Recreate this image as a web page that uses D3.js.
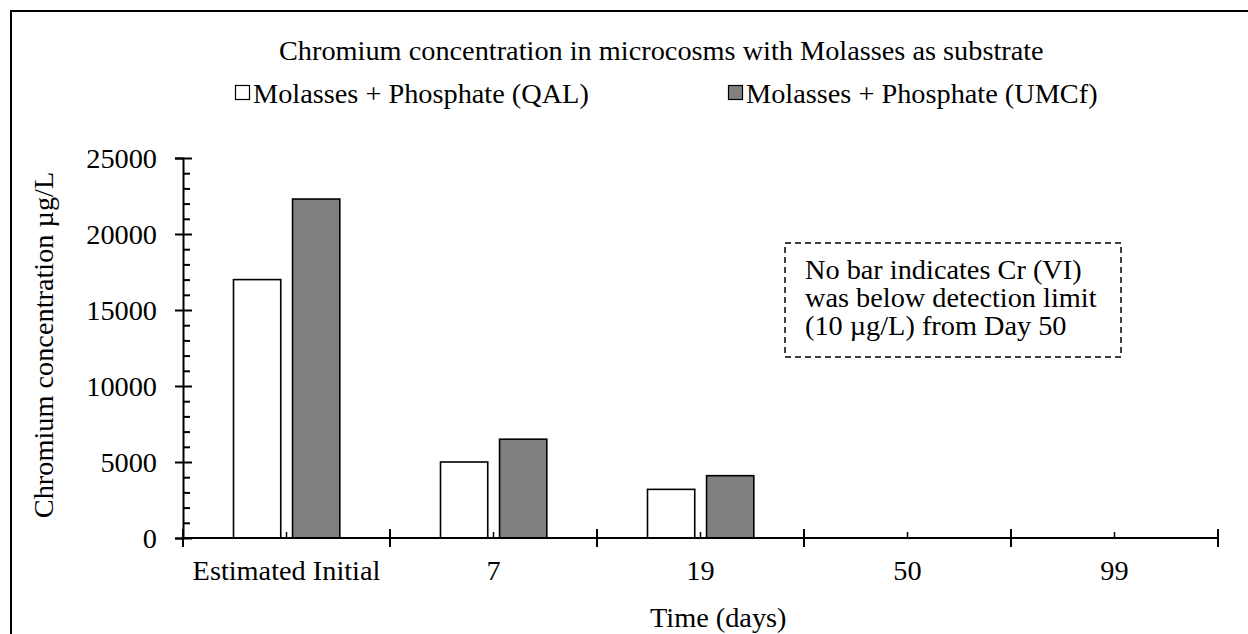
<!DOCTYPE html>
<html>
<head>
<meta charset="utf-8">
<script src="https://cdn.jsdelivr.net/npm/d3@7/dist/d3.min.js"></script>
<style>
  html, body { margin: 0; padding: 0; background: #fff; overflow: hidden; }
  svg { display: block; }
  text { font-family: "Liberation Serif", "Times New Roman", serif; fill: #000; }
</style>
</head>
<body>
<svg id="chart" width="1248" height="634"></svg>
<script>
// Chromium concentration per sampling time, two molasses microcosms
const categories = ["Estimated Initial", "7", "19", "50", "99"];
const seriesNames = ["Molasses + Phosphate (QAL)", "Molasses + Phosphate (UMCf)"];
// null = below detection limit, no bar drawn
const qalValues  = [17000, 5000, 3200, null, null];
const umcfValues = [22300, 6500, 4100, null, null];
const yTickValues = [0, 5000, 10000, 15000, 20000, 25000];
const yMinorStep = 1000;
const noteLines = ["No bar indicates Cr (VI)", "was below detection limit", "(10 \u00b5g/L) from Day 50"];

const seriesColors = ["#ffffff", "#808080"];
const FONT = 28.3;

const svg = d3.select("#chart");

// outer chart frame (runs past the right and bottom edges)
svg.append("rect")
  .attr("x", 11).attr("y", 11)
  .attr("width", 1400).attr("height", 700)
  .attr("fill", "none").attr("stroke", "#000").attr("stroke-width", 2);

const plot = { left: 183, right: 1218, top: 158, bottom: 538 };

const x = d3.scaleBand().domain(categories).range([plot.left, plot.right]).padding(0);
const xs = d3.scaleBand().domain(seriesNames).range([50.5, 156.8]).paddingInner(0.2);
const y = d3.scaleLinear().domain([0, 25000]).range([plot.bottom, plot.top]);

// title
svg.append("text")
  .attr("x", 279).attr("y", 60)
  .style("font-size", FONT + "px")
  .text("Chromium concentration in microcosms with Molasses as substrate");

// legend
const legendX = [235, 728];
seriesNames.forEach((name, i) => {
  const g = svg.append("g").attr("transform", `translate(${legendX[i]},0)`);
  g.append("rect")
    .attr("x", 0.5).attr("y", 85.5).attr("width", 14).attr("height", 14)
    .attr("fill", seriesColors[i]).attr("stroke", "#000").attr("stroke-width", 1.2);
  g.append("text")
    .attr("x", 18).attr("y", 103)
    .style("font-size", FONT + "px")
    .text(name);
});

// bars
const rows = categories.map((c, i) => ({ cat: c, vals: [qalValues[i], umcfValues[i]] }));
const barG = svg.append("g");
rows.forEach(r => {
  r.vals.forEach((v, si) => {
    if (v == null) return;
    barG.append("rect")
      .attr("x", x(r.cat) + xs(seriesNames[si]))
      .attr("y", y(v))
      .attr("width", xs.bandwidth())
      .attr("height", y(0) - y(v))
      .attr("fill", seriesColors[si])
      .attr("stroke", "#000")
      .attr("stroke-width", 1.6);
  });
});

// y axis: major ticks crossing the line, minor ticks inside
const yMajorLeft = d3.axisLeft(y).tickValues(yTickValues).tickSize(8).tickPadding(18)
  .tickFormat(d3.format("d"));
const yAxisG = svg.append("g").attr("transform", `translate(${plot.left},0)`).call(yMajorLeft);
yAxisG.select(".domain").attr("stroke-width", 2);
yAxisG.selectAll(".tick line").attr("stroke-width", 2);
yAxisG.selectAll(".tick text").style("font-size", FONT + "px").style("font-family", "Liberation Serif").attr("dy", "0.34em");

const minorVals = d3.range(0, 25000 + 1, yMinorStep);
const yMinor = d3.axisRight(y).tickValues(minorVals).tickSize(7).tickFormat("");
const yMinorG = svg.append("g").attr("transform", `translate(${plot.left},0)`).call(yMinor);
yMinorG.select(".domain").remove();
yMinorG.selectAll(".tick line")
  .attr("stroke-width", 2)
  .attr("x2", d => yTickValues.includes(d) ? 9 : 7);

// x axis: labels centered on categories, ticks on the category boundaries
const xAxis = d3.axisBottom(x).tickSize(0).tickPadding(30);
const xAxisG = svg.append("g").attr("transform", `translate(0,${plot.bottom})`).call(xAxis);
xAxisG.select(".domain").attr("stroke-width", 2).attr("d", `M${plot.left},0H${plot.right}`);
xAxisG.selectAll(".tick text").style("font-size", FONT + "px").style("font-family", "Liberation Serif")
  .attr("y", 42).attr("dy", 0);

const bounds = categories.map(c => x(c)).concat([x(categories[categories.length - 1]) + x.bandwidth()]);
xAxisG.selectAll(".bound").data(bounds).join("line")
  .attr("class", "bound")
  .attr("x1", d => d).attr("x2", d => d)
  .attr("y1", -9).attr("y2", 9)
  .attr("stroke", "#000").attr("stroke-width", 2);
xAxisG.selectAll(".mid").data(categories).join("line")
  .attr("class", "mid")
  .attr("x1", d => x(d) + x.bandwidth() / 2).attr("x2", d => x(d) + x.bandwidth() / 2)
  .attr("y1", -6).attr("y2", 0)
  .attr("stroke", "#000").attr("stroke-width", 1.5);

// axis titles
svg.append("text")
  .attr("x", 650).attr("y", 627)
  .style("font-size", FONT + "px")
  .text("Time (days)");

svg.append("text")
  .attr("transform", "translate(53,345) rotate(-90)")
  .attr("text-anchor", "middle")
  .style("font-size", FONT + "px")
  .text("Chromium concentration \u00b5g/L");

// detection-limit note
svg.append("rect")
  .attr("x", 785).attr("y", 243).attr("width", 336).attr("height", 114)
  .attr("fill", "#fff").attr("stroke", "#000").attr("stroke-width", 1.5)
  .attr("stroke-dasharray", "6,4");
noteLines.forEach((t, i) => {
  svg.append("text")
    .attr("x", 805).attr("y", 279 + i * 28)
    .style("font-size", FONT + "px")
    .text(t);
});
</script>
</body>
</html>
